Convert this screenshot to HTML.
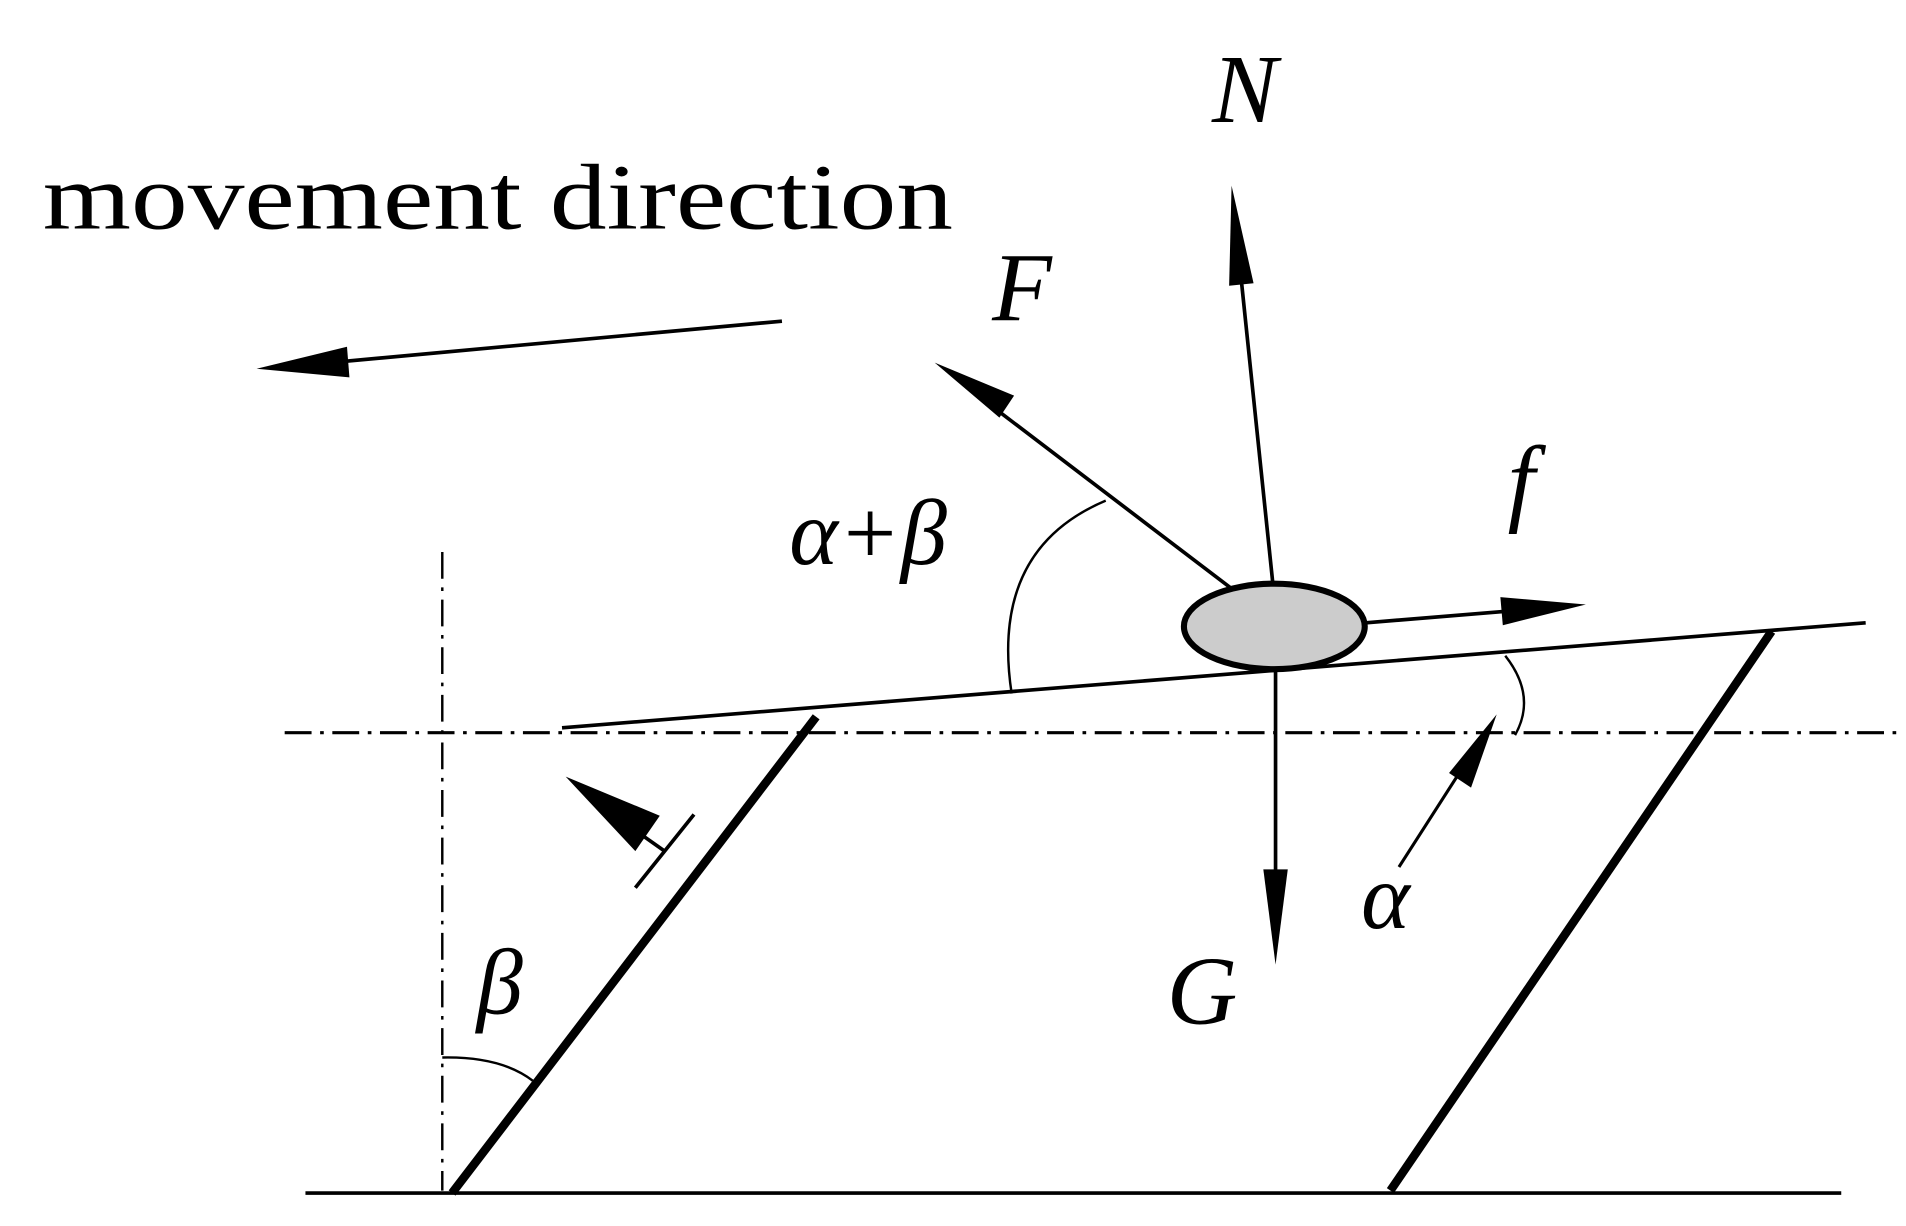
<!DOCTYPE html>
<html><head><meta charset="utf-8"><style>
html,body{margin:0;padding:0;background:#fff;}
svg{display:block;}
text{font-family:"Liberation Serif","DejaVu Serif",serif;fill:#000;}
</style></head><body>
<svg width="1906" height="1226" viewBox="0 0 1560 1004" preserveAspectRatio="none" xmlns="http://www.w3.org/2000/svg">
<rect width="1560" height="1004" fill="#fff"/>
<text x="35" y="187" font-size="76" textLength="745" lengthAdjust="spacingAndGlyphs">movement direction</text>
<!-- movement arrow -->
<line x1="640" y1="263" x2="270" y2="297" stroke="#000" stroke-width="3"/>
<polygon points="210,302 284,284 286,309" fill="#000"/>
<!-- N -->
<text x="992" y="100" font-size="80" font-style="italic">N</text>
<line x1="1042" y1="480" x2="1015" y2="220" stroke="#000" stroke-width="3"/>
<polygon points="1008,152 1026,232 1006,234" fill="#000"/>
<!-- F -->
<text x="812" y="262" font-size="80" font-style="italic">F</text>
<line x1="1008" y1="482" x2="815" y2="335" stroke="#000" stroke-width="3"/>
<polygon points="765,297 830,324 818,342" fill="#000"/>
<!-- f -->
<text x="1234" y="420" font-size="80" font-style="italic">f</text>
<line x1="1118" y1="510" x2="1240" y2="500" stroke="#000" stroke-width="3"/>
<polygon points="1298,495 1228,489 1230,512" fill="#000"/>
<!-- alpha+beta -->
<text x="646" y="462" font-size="76" font-style="italic">α+β</text>
<path d="M905,410 Q810,450 828,568" fill="none" stroke="#000" stroke-width="2"/>
<!-- incline -->
<line x1="460" y1="596" x2="1527" y2="510" stroke="#000" stroke-width="3"/>
<!-- dash-dot lines -->
<line x1="233" y1="600" x2="1552" y2="600" stroke="#000" stroke-width="2.5" stroke-dasharray="22,7,3,7"/>
<line x1="362" y1="452" x2="362" y2="975" stroke="#000" stroke-width="2" stroke-dasharray="22,7,3,7"/>
<!-- ground -->
<line x1="250" y1="977" x2="1507" y2="977" stroke="#000" stroke-width="3"/>
<!-- thick legs -->
<line x1="668" y1="587" x2="370" y2="977" stroke="#000" stroke-width="7"/>
<line x1="1450" y1="517" x2="1138" y2="975" stroke="#000" stroke-width="7"/>
<!-- ellipse -->
<ellipse cx="1043" cy="513" rx="74" ry="35" fill="#cccccc" stroke="#000" stroke-width="5"/>
<!-- G -->
<line x1="1044" y1="548" x2="1044" y2="720" stroke="#000" stroke-width="3"/>
<polygon points="1044,790 1034,712 1054,712" fill="#000"/>
<text x="955" y="838" font-size="80" font-style="italic">G</text>
<!-- alpha -->
<text x="1114" y="760" font-size="76" font-style="italic">α</text>
<line x1="1145" y1="710" x2="1195" y2="632" stroke="#000" stroke-width="2.5"/>
<polygon points="1225,585 1204,645 1186,633" fill="#000"/>
<path d="M1232,537 Q1258,570 1240,602" fill="none" stroke="#000" stroke-width="2"/>
<!-- small arrow with tick -->
<line x1="568" y1="667" x2="520" y2="727" stroke="#000" stroke-width="3"/>
<line x1="544" y1="697" x2="510" y2="673" stroke="#000" stroke-width="3"/>
<polygon points="463,636 540,668 520,697" fill="#000"/>
<!-- beta -->
<text x="390" y="830" font-size="76" font-style="italic">β</text>
<path d="M362,866 Q410,865 436,885" fill="none" stroke="#000" stroke-width="2"/>
</svg>
</body></html>
